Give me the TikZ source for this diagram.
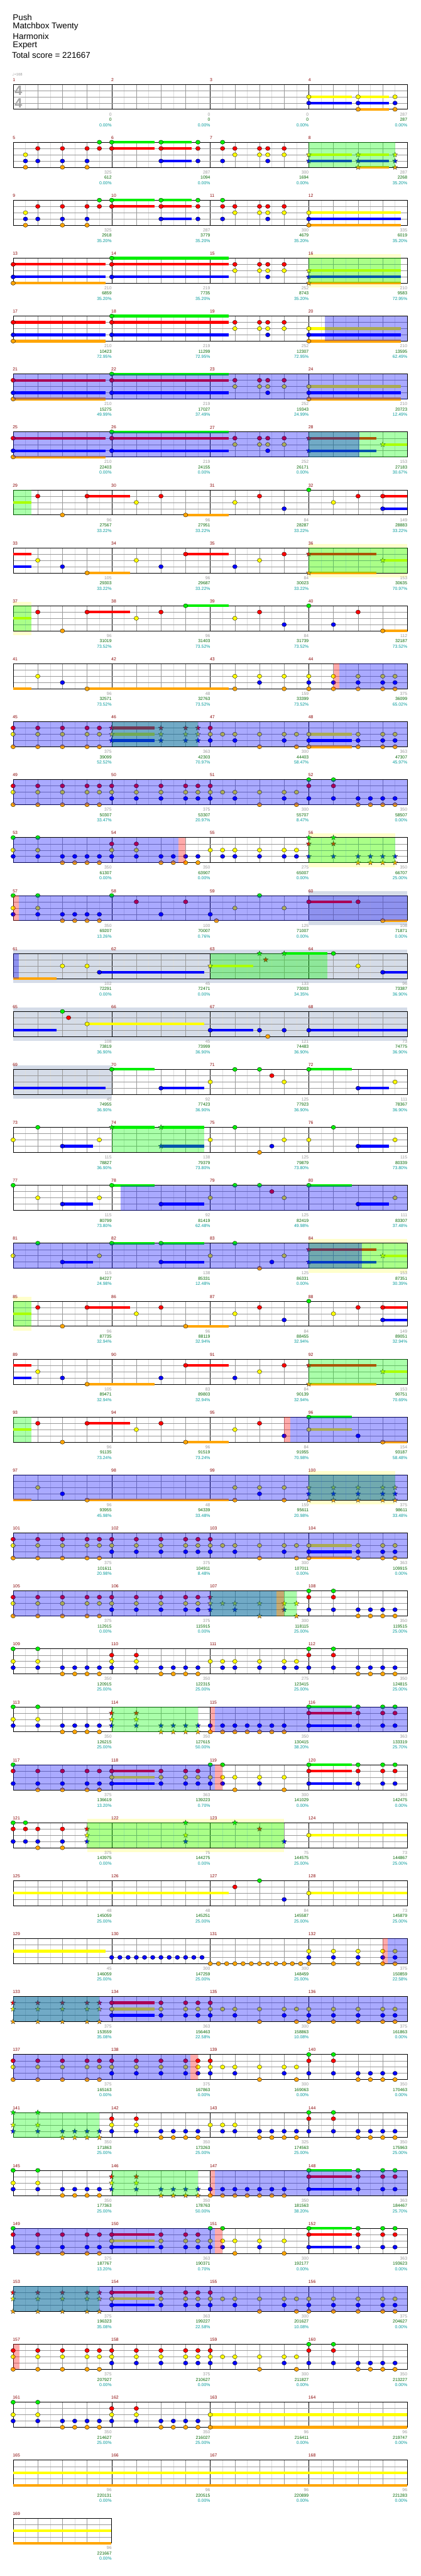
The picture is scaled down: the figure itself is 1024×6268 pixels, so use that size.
\documentclass[tikz,border=0pt]{standalone}
\usepackage{fontspec}
\setmainfont{Liberation Sans}
\newfontfamily\djv{DejaVu Sans}
\usetikzlibrary{shapes.geometric}
\definecolor{cG}{HTML}{00EE00}
\definecolor{cR}{HTML}{FF0000}
\definecolor{cY}{HTML}{FFFF00}
\definecolor{cB}{HTML}{0000FF}
\definecolor{cO}{HTML}{FFA500}
\definecolor{mred}{HTML}{880000}
\definecolor{sgray}{HTML}{999999}
\definecolor{sgreen}{HTML}{006600}
\definecolor{steal}{HTML}{009999}
\definecolor{pyel}{HTML}{FFFFCC}
\definecolor{gblu}{HTML}{D5DCE8}
\definecolor{lgr}{HTML}{DDDDDD}
\definecolor{mgr}{HTML}{999999}
\definecolor{ovg}{HTML}{00FF00}
\definecolor{ovb}{HTML}{0000FF}
\definecolor{ovr}{HTML}{FF0000}
\def\LG{0}\def\LR{1}\def\LY{2}\def\LB{3}\def\LO{4}
\tikzset{
 nt/.style={ellipse,draw=black,line width=0.5pt,minimum width=11pt,minimum height=10pt,inner sep=0pt},
 sn/.style={star,star points=5,star point ratio=2.3,draw=black!80,line width=0.5pt,minimum size=13pt,inner sep=0pt},
 bar/.style={line width=6.5pt},
 l8/.style={lgr,line width=0.5pt},
 lq/.style={mgr,line width=0.7pt},
 lm/.style={black,line width=0.7pt},
 frame/.style={black,line width=1.1pt},
 og/.style={fill=ovg,fill opacity=0.333},
 ob/.style={fill=ovb,fill opacity=0.333},
 orr/.style={fill=ovr,fill opacity=0.333},
 ey/.style={fill=pyel},
 eg/.style={fill=gblu},
 mlab/.style={text=mred,anchor=west,inner sep=0pt,font=\fontsize{10.5}{12}\selectfont},
 s1/.style={text=sgray,anchor=east,inner sep=0pt,font=\fontsize{10.5}{12}\selectfont},
 s2/.style={text=sgreen,anchor=east,inner sep=0pt,font=\fontsize{10.5}{12}\selectfont},
 s3/.style={text=steal,anchor=east,inner sep=0pt,font=\fontsize{10.5}{12}\selectfont},
 ttl/.style={anchor=west,inner sep=0pt,font=\fontsize{20.5}{24}\selectfont}
}
\newcommand\Grid[2]{%
 \pgfmathsetmacro\gT{205+141*#1}%
 \pgfmathsetmacro\gB{\gT+61}%
 \pgfmathsetmacro\gR{32+240*#2}%
 \pgfmathtruncatemacro\nE{8*#2-1}%
 \foreach \i in {1,...,\nE}{\draw[l8] ({32+30*\i},\gT) -- ({32+30*\i},\gB);}%
 \pgfmathtruncatemacro\nQ{4*#2-1}%
 \foreach \i in {1,...,\nQ}{\draw[lq] ({32+60*\i},\gT) -- ({32+60*\i},\gB);}%
 \pgfmathtruncatemacro\nM{#2-1}%
 \ifnum\nM>0 \foreach \i in {1,...,\nM}{\draw[lm] ({32+240*\i},\gT) -- ({32+240*\i},\gB);}\fi
 \foreach \l in {1,2,3}{\draw[lq] (32,{\gT+15.25*\l}) -- (\gR,{\gT+15.25*\l});}%
 \draw[frame] (32,\gT) rectangle (\gR,\gB);%
 \pgfmathtruncatemacro\mm{4*#1}%
 \foreach \i in {1,...,#2}{\pgfmathtruncatemacro\mn{\mm+\i}\node[mlab] at ({31+240*(\i-1)},{194+141*#1}) {\mn};}%
}
\newcommand\Nt[3]{\pgfmathsetmacro\ly{205+141*#1+15.25*\csname L#2\endcsname}%
 \foreach \e in {#3}{\node[nt,fill=c#2] at ({32+30*\e},\ly) {};}}
\newcommand\Sr[3]{\pgfmathsetmacro\ly{205+141*#1+15.25*\csname L#2\endcsname}%
 \foreach \e in {#3}{\node[sn,fill=c#2] at ({32+30*\e},\ly) {};}}
\newcommand\Bs[3]{\pgfmathsetmacro\ly{205+141*#1+15.25*\csname L#2\endcsname}%
 \foreach \a/\b in {#3}{\draw[bar,c#2] ({32+30*\a},\ly) -- ({32+30*\b},\ly);}}
\newcommand\OV[4]{\fill[#4] ({32+30*#2},{205+141*#1}) rectangle ({32+30*#3},{266+141*#1});}
\newcommand\EX[4]{\fill[#4] ({32+30*#2},{195+141*#1}) rectangle ({32+30*#3},{277+141*#1});}
\newcommand\Scs[2]{\foreach \g/\s/\p [count=\j] in {#2}{%
 \node[s1] at ({32+240*\j},{278+141*#1}) {\g};
 \node[s2] at ({32+240*\j},{291+141*#1}) {\s};
 \node[s3] at ({32+240*\j},{304+141*#1}) {\p\%};}}
% repeated measure groups
\newcommand\GroupA[1]{% like measures 113-116
 \Grid{#1}{4}
 \Bs{#1}{G}{24/27.5}\Bs{#1}{R}{24/27.5}\Bs{#1}{B}{24/27.5}
 \Nt{#1}{G}{0,2,24,28,30,31}\Nt{#1}{Y}{0,2}\Nt{#1}{B}{0,2,4,5,6,7,16,17,18,19,20,21,22,24,28,30,31}\Nt{#1}{O}{4,5,6,7,16,17,18,19,20,21,22}\Nt{#1}{R}{24,28,30,31}
 \Sr{#1}{R}{8,10}\Sr{#1}{Y}{8,10}\Sr{#1}{B}{8,10,12,13,14,15}\Sr{#1}{O}{12,13,14,15}
 \OV{#1}{8}{15}{og}\OV{#1}{16}{16.4}{orr}\OV{#1}{16.4}{32}{ob}}
\newcommand\GroupB[1]{% like measures 117-120
 \Grid{#1}{4}
 \Bs{#1}{R}{8/11.5,24/27.5}\Bs{#1}{Y}{8/11.5}\Bs{#1}{B}{8/11.5,24/27.5}\Bs{#1}{G}{24/27.5}
 \Nt{#1}{G}{0,16,17,24,28,30,31}\Nt{#1}{R}{0,2,4,6,7,8,12,14,15,24,28,30,31}\Nt{#1}{Y}{8,12,14,15,16,17,18,20,22}\Nt{#1}{B}{0,2,4,6,7,8,12,14,15,16,17,20,24,28,30,31}\Nt{#1}{O}{2,4,6,7,18,22}
 \OV{#1}{0}{16.4}{ob}\OV{#1}{16.4}{17}{orr}}
\newcommand\GroupC[1]{% like measures 133-136
 \Grid{#1}{4}
 \Bs{#1}{R}{8/11.5}\Bs{#1}{Y}{8/11.5}\Bs{#1}{B}{8/11.5}
 \Sr{#1}{R}{0,2,4,6,7}\Sr{#1}{Y}{0,2,4,6,7}\Sr{#1}{O}{0,2,4,6,7}
 \Nt{#1}{R}{8,12,14,15,16}\Nt{#1}{Y}{8,12,14,15,16,17,18,20,22,23,24,26,28,30,31}\Nt{#1}{B}{8,12,14,15,16,18,22,24,26,28,30,31}\Nt{#1}{O}{20,23,24,26,28,30,31}
 \OV{#1}{0}{7}{og}\OV{#1}{0}{32}{ob}}
\newcommand\GroupD[1]{% like measures 137-140
 \Grid{#1}{4}
 \Nt{#1}{R}{0,2,4,6,7,8,10,12,14,15,16,24,26}\Nt{#1}{Y}{0,2,4,6,7,8,10,12,14,15,16,17,18,20,22,23}\Nt{#1}{B}{8,10,12,14,15,16,18,22,24,26,28,29,30,31}\Nt{#1}{O}{0,2,4,6,7,20,23,28,29,30,31}\Nt{#1}{G}{24,26}}
\begin{document}
\begin{tikzpicture}[x=1pt,y=-1pt]
\fill[white] (0,0) rectangle (1024,6268);
\useasboundingbox (0,0) rectangle (1024,6268);
\node[ttl] (t1) at (31,42) {Push};
\node[ttl] (t2) at (31,65) {Matchbox Twenty};
\node[ttl] (t3) at (31,88) {Harmonix};
\node[ttl] (t4) at (31,111) {Expert};
\node[ttl] (t5) at (29,134) {Total score = 221667};
\node[anchor=west,inner sep=0pt,text=sgray,font=\fontsize{9}{10}\selectfont] (tempo) at (30,181) {{\djv ♩}=168};
% ---------- row 0
\Grid{0}{4}
\node[text=black!35,font=\fontsize{33}{33}\selectfont\bfseries] (ts1) at (45,220) {4};
\node[text=black!35,font=\fontsize{33}{33}\selectfont\bfseries] (ts2) at (45,251) {4};
\Bs{0}{Y}{24/27.5,28/30.5}\Bs{0}{B}{24/27.5,28/30.5}\Bs{0}{O}{28/30.5}
\Nt{0}{Y}{24,28,31}\Nt{0}{B}{24,28,31}\Nt{0}{O}{28,31}
\Scs{0}{0/0/0.00,0/0/0.00,0/0/0.00,287/287/0.00}
% ---------- row 1
\Grid{1}{4}
\Bs{1}{G}{8/11.5,12/14.5}\Bs{1}{R}{8/11.5,12/14.5}\Bs{1}{Y}{24/27.5,28/30.5}\Bs{1}{B}{12/14.5,24/27.5,28/30.5}\Bs{1}{O}{28/30.5}
\Nt{1}{G}{7,8,12,15,17}\Nt{1}{R}{2,4,6,7,8,12,15,17,18,20,20.67,22}\Nt{1}{Y}{1,18,20,20.67,22}\Nt{1}{B}{1,2,4,6,12,15,17,20.67}\Nt{1}{O}{1,4,6}
\Sr{1}{Y}{24,28,31}\Sr{1}{B}{24,28,31}\Sr{1}{O}{28,31}
\OV{1}{24}{31}{og}
\Scs{1}{325/612/0.00,287/1094/0.00,300/1694/0.00,287/2268/35.20}
% ---------- row 2
\Grid{2}{4}
\Bs{2}{G}{8/11.5,12/14.5}\Bs{2}{R}{8/11.5,12/14.5}\Bs{2}{Y}{24/31.5}\Bs{2}{B}{12/14.5,24/31.5}\Bs{2}{O}{24/31.5}
\Nt{2}{G}{7,8,12,15,17}\Nt{2}{R}{2,4,6,7,8,12,15,17,18,20,20.67,22}\Nt{2}{Y}{1,18,20,20.67,22,24}\Nt{2}{B}{1,2,4,6,12,15,17,20.67,24}\Nt{2}{O}{1,4,6,24}
\Scs{2}{325/2918/35.20,287/3779/35.20,300/4679/35.20,335/6019/35.20}
% ---------- row 3
\EX{3}{24}{31.5}{ey}
\Grid{3}{4}
\Bs{3}{R}{0/7.5,8/17.5}\Bs{3}{G}{8/17.5}\Bs{3}{B}{0/7.5,8/17.5,24/31.5}\Bs{3}{O}{0/7.5,24/31.5}\Bs{3}{Y}{24/31.5}
\Nt{3}{R}{0,8,18,20,20.67,22}\Nt{3}{G}{8}\Nt{3}{Y}{18,20,20.67,22}\Nt{3}{B}{0,8,20.67}\Nt{3}{O}{0}
\Sr{3}{Y}{24}\Sr{3}{B}{24}\Sr{3}{O}{24}
\OV{3}{24}{31.5}{og}
\Scs{3}{210/6859/35.20,219/7735/35.20,252/8743/35.20,210/9583/72.95}
% ---------- row 4
\Grid{4}{4}
\Bs{4}{R}{0/7.5,8/17.5}\Bs{4}{G}{8/17.5}\Bs{4}{B}{0/7.5,8/17.5,24/31.5}\Bs{4}{O}{0/7.5,24/31.5}\Bs{4}{Y}{24/31.5}
\Nt{4}{R}{0,8,18,20,20.67,22}\Nt{4}{G}{8}\Nt{4}{Y}{18,20,20.67,22,24}\Nt{4}{B}{0,8,20.67,24}\Nt{4}{O}{0,24}
\OV{4}{25.3}{32}{ob}
\Scs{4}{210/10423/72.95,219/11299/72.95,252/12307/72.95,210/13595/62.49}
% ---------- row 5
\Grid{5}{4}
\Bs{5}{R}{0/7.5,8/17.5}\Bs{5}{G}{8/17.5}\Bs{5}{B}{0/7.5,8/17.5,24/31.5}\Bs{5}{O}{0/7.5,24/31.5}\Bs{5}{Y}{24/31.5}
\Nt{5}{R}{0,8,18,20,20.67,22}\Nt{5}{G}{8}\Nt{5}{Y}{18,20,20.67,22,24}\Nt{5}{B}{0,8,20.67,24}\Nt{5}{O}{0,24}
\OV{5}{0}{32}{ob}
\Scs{5}{210/15275/49.99,219/17027/37.49,252/19343/24.99,210/20723/12.49}
% ---------- row 6
\Grid{6}{4}
\Bs{6}{R}{0/7.5,8/17.5,24/29.5}\Bs{6}{G}{8/17.5}\Bs{6}{B}{0/7.5,8/17.5,24/29.5}\Bs{6}{O}{0/7.5}\Bs{6}{Y}{30/32}
\Nt{6}{R}{0,8,18,20,20.67,22}\Nt{6}{G}{8}\Nt{6}{Y}{18,20,20.67,22}\Nt{6}{B}{0,8,20.67}\Nt{6}{O}{0}
\Sr{6}{R}{24}\Sr{6}{B}{24}\Sr{6}{Y}{30}
\OV{6}{24}{32}{og}\OV{6}{0}{28.1}{ob}
\Scs{6}{210/22403/0.00,219/24155/0.00,252/26171/0.00,153/27183/30.67}
% ---------- row 7
\Grid{7}{4}
\Bs{7}{Y}{0/1.5}\Bs{7}{R}{6/9.5,30/32}\Bs{7}{O}{14/17.5}\Bs{7}{B}{30/32}
\Nt{7}{R}{2,6,12,20,28,30}\Nt{7}{Y}{10,18,26}\Nt{7}{B}{22,30}\Nt{7}{O}{4,14}\Nt{7}{G}{24}
\OV{7}{0}{1.5}{og}
\Scs{7}{96/27567/33.22,96/27951/33.22,84/28287/33.22,149/28883/33.22}
% ---------- row 8
\EX{8}{24}{32}{ey}
\Grid{8}{4}
\Bs{8}{R}{0/1.5,14/17.5,24/29.5}\Bs{8}{B}{0/1.5}\Bs{8}{O}{6/9.5,24/29.5}\Bs{8}{Y}{30/32}
\Nt{8}{Y}{2,10,20}\Nt{8}{B}{4,12,18}\Nt{8}{O}{6}\Nt{8}{R}{14,22}
\Sr{8}{R}{24}\Sr{8}{O}{24}\Sr{8}{Y}{30}
\OV{8}{24}{32}{og}
\Scs{8}{105/29303/33.22,96/29687/33.22,84/30023/33.22,153/30635/70.97}
% ---------- row 9
\EX{9}{0}{1.5}{ey}
\Grid{9}{4}
\Bs{9}{Y}{0/1.5}\Bs{9}{R}{6/9.5}\Bs{9}{G}{14/17.5}\Bs{9}{O}{30/32}
\Nt{9}{R}{2,6,12,20,28}\Nt{9}{Y}{10,18}\Nt{9}{G}{14,24}\Nt{9}{B}{22,26}\Nt{9}{O}{4,30}
\OV{9}{0}{1.5}{og}
\Scs{9}{96/31019/73.52,96/31403/73.52,84/31739/73.52,112/32187/73.52}
% ---------- row 10
\Grid{10}{4}
\Bs{10}{O}{0/1.5,6/17.5}
\Nt{10}{Y}{2,18,20,22,24,26,28,30,31}\Nt{10}{B}{4,20,24,26,28,30,31}\Nt{10}{O}{6,18,22,24,26,28,30,31}
\OV{10}{26}{26.5}{orr}\OV{10}{26.5}{32}{ob}
\Scs{10}{96/32571/73.52,48/32763/73.52,159/33399/73.52,375/36099/65.02}
% ---------- row 11
\Grid{11}{4}
\Bs{11}{R}{8/11.5}\Bs{11}{Y}{8/11.5,24/27.5}\Bs{11}{B}{8/11.5,24/27.5}\Bs{11}{O}{24/27.5}
\Nt{11}{R}{0,2,4,6,7,16}\Nt{11}{Y}{0,2,4,6,7,16,17,18,20,22,23,24,28,30,31}\Nt{11}{B}{16,18,22,24,28,30,31}\Nt{11}{O}{0,2,4,6,7,20,23,24,28,30,31}
\Sr{11}{R}{8,12,14,15}\Sr{11}{Y}{8,12,14,15}\Sr{11}{B}{8,12,14,15}
\OV{11}{8}{15}{og}\OV{11}{0}{32}{ob}
\Scs{11}{375/39099/52.52,363/42303/70.97,300/44403/58.47,363/47307/45.97}
% ---------- row 12
\GroupD{12}
\OV{12}{0}{32}{ob}
\Scs{12}{375/50307/33.47,375/53307/20.97,300/55707/8.47,350/58507/0.00}
% ---------- row 13
\EX{13}{24}{31}{ey}
\Grid{13}{4}
\Nt{13}{G}{0,2}\Nt{13}{Y}{0,2,8,10,16,17,18,20,22,23}\Nt{13}{R}{8,10}\Nt{13}{B}{0,2,4,5,6,7,8,10,12,13,14,15,17,18,20,22,23}\Nt{13}{O}{4,5,6,7,12,13,14,15}
\Sr{13}{G}{24,26}\Sr{13}{R}{24,26}\Sr{13}{B}{24,26,28,29,30,31}\Sr{13}{O}{28,29,30,31}
\OV{13}{24}{31}{og}\OV{13}{0}{13.4}{ob}\OV{13}{13.4}{14}{orr}
\Scs{13}{350/61307/0.00,350/63907/0.00,275/65007/0.00,350/66707/25.00}
% ---------- row 14
\EX{14}{24}{32}{eg}
\Grid{14}{4}
\Bs{14}{R}{24/27.5}\Bs{14}{O}{30/32}
\Nt{14}{G}{0,2,8,20}\Nt{14}{R}{10,14,24,28}\Nt{14}{Y}{0,2,18,22}\Nt{14}{B}{0,2,4,5,6,7,12,16}\Nt{14}{O}{4,5,6,7,16.5,30}
\OV{14}{0}{0.46}{orr}\OV{14}{0.46}{32}{ob}
\Scs{14}{350/69207/13.26,100/70007/0.76,125/71007/0.00,108/71871/0.00}
% ---------- row 15
\EX{15}{0}{32}{eg}
\Grid{15}{4}
\Bs{15}{O}{0/3.5}\Bs{15}{B}{7/15.5,30/32}\Bs{15}{Y}{16/19.5}\Bs{15}{G}{22/25.5}
\Nt{15}{Y}{4,6,28}\Nt{15}{B}{7,30}\Nt{15}{G}{26}
\Sr{15}{Y}{16}\Sr{15}{G}{20,22}\Sr{15}{R}{20.5}
\OV{15}{16}{25.5}{og}\OV{15}{0}{0.46}{ob}
\Scs{15}{102/72291/0.00,45/72471/0.00,133/73003/34.35,96/73387/36.90}
% ---------- row 16
\EX{16}{0}{32}{eg}
\Grid{16}{4}
\Bs{16}{B}{0/3.5,16/19.5,24/32}\Bs{16}{Y}{6/15.5}
\Nt{16}{G}{4}\Nt{16}{R}{4.5}\Nt{16}{Y}{6}\Nt{16}{B}{16,20,22,24}\Nt{16}{O}{20.67}
\Scs{16}{108/73819/36.90,45/73999/36.90,121/74483/36.90,73/74775/36.90}
% ---------- row 17
\EX{17}{0}{8}{eg}
\Grid{17}{4}
\Bs{17}{B}{0/7.5,12/15.5,28/30.5}\Bs{17}{G}{8/11.5,24/27.5}
\Nt{17}{G}{8,18,20,24}\Nt{17}{B}{12,28}\Nt{17}{Y}{16,22,31}\Nt{17}{R}{21}
\Scs{17}{45/74955/36.90,92/77423/36.90,125/77923/36.90,111/78367/36.90}
% ---------- row 18
\Grid{18}{4}
\Bs{18}{G}{8/11.5,12/15.5}\Bs{18}{B}{4/6.5,12/15.5,28/30.5}
\Nt{18}{G}{2,18,26}\Nt{18}{Y}{0,7,16,22,24,31}\Nt{18}{B}{4,21,28}\Nt{18}{O}{20}
\Sr{18}{G}{8,12}\Sr{18}{B}{12}
\OV{18}{8}{15.5}{og}
\Scs{18}{115/78827/36.90,138/79379/73.80,125/79879/73.80,115/80339/73.80}
% ---------- row 19
\Grid{19}{4}
\Bs{19}{G}{8/11.5,24/27.5}\Bs{19}{B}{4/6.5,12/15.5,28/30.5}
\Nt{19}{G}{0,8,18,20,24}\Nt{19}{Y}{2,7,16,22,31}\Nt{19}{B}{4,12,28}\Nt{19}{R}{21}
\OV{19}{8.73}{32}{ob}
\Scs{19}{115/80799/73.80,92/81419/62.48,125/82419/49.98,111/83307/37.48}
% ---------- row 20
\EX{20}{24}{32}{ey}
\Grid{20}{4}
\Bs{20}{G}{8/11.5,12/15.5}\Bs{20}{B}{4/6.5,12/15.5,24/29.5}\Bs{20}{R}{24/29.5}\Bs{20}{Y}{30/32}
\Nt{20}{G}{2,8,12,18}\Nt{20}{Y}{0,7,16,22}\Nt{20}{B}{4,12,21}\Nt{20}{O}{20}
\Sr{20}{B}{24}\Sr{20}{R}{24}\Sr{20}{Y}{30}
\OV{20}{24}{32}{og}\OV{20}{0}{28.3}{ob}
\Scs{20}{115/84227/24.98,138/85331/12.48,125/86331/0.00,153/87351/30.39}
% ---------- row 21
\EX{21}{0}{1.5}{ey}
\Grid{21}{4}
\Bs{21}{Y}{0/1.5}\Bs{21}{R}{6/9.5,30/32}\Bs{21}{O}{14/17.5}\Bs{21}{B}{30/32}
\Nt{21}{R}{2,6,12,20,28,30}\Nt{21}{Y}{10,18,26}\Nt{21}{B}{22,30}\Nt{21}{O}{4,14}\Nt{21}{G}{24}
\OV{21}{0}{1.5}{og}
\Scs{21}{96/87735/32.94,96/88119/32.94,84/88455/32.94,149/89051/32.94}
% ---------- row 22
\Grid{22}{4}
\Bs{22}{R}{0/1.5,14/17.5,24/29.5}\Bs{22}{B}{0/1.5}\Bs{22}{O}{6/11.5,24/29.5}\Bs{22}{Y}{30/32}
\Nt{22}{Y}{2,20}\Nt{22}{B}{4,12,18}\Nt{22}{O}{6}\Nt{22}{R}{14,22}
\Sr{22}{R}{24}\Sr{22}{O}{24}\Sr{22}{Y}{30}
\OV{22}{24}{32}{og}
\Scs{22}{105/89471/32.94,83/89803/32.94,84/90139/32.94,153/90751/70.69}
% ---------- row 23
\Grid{23}{4}
\Bs{23}{Y}{0/1.5,24/27.5}\Bs{23}{R}{6/9.5}\Bs{23}{O}{14/17.5,30/32}\Bs{23}{G}{24/27.5}
\Nt{23}{R}{2,6,12,20}\Nt{23}{Y}{10,18,24}\Nt{23}{O}{4,14,30}\Nt{23}{B}{22,28}\Nt{23}{G}{24}
\OV{23}{0}{1.5}{og}\OV{23}{22}{22.5}{orr}\OV{23}{22.5}{32}{ob}
\Scs{23}{96/91135/73.24,96/91519/73.24,84/91955/70.98,154/93187/58.48}
% ---------- row 24
\EX{24}{24}{31}{ey}
\Grid{24}{4}
\Bs{24}{O}{0/1.5,6/17.5}
\Nt{24}{Y}{2,18,20,22}\Nt{24}{B}{4,20}\Nt{24}{O}{6,18,22}
\Sr{24}{Y}{24,26,28,30,31}\Sr{24}{B}{24,26,28,30,31}\Sr{24}{O}{24,26,28,30,31}
\OV{24}{24}{31}{og}\OV{24}{0}{32}{ob}
\Scs{24}{96/93955/45.98,48/94339/33.48,159/95611/20.98,375/98611/33.48}
% ---------- row 25
\Grid{25}{4}
\Bs{25}{Y}{24/27.5}\Bs{25}{B}{24/27.5}\Bs{25}{O}{24/27.5}
\Nt{25}{R}{0,2,4,6,7,8,10,12,14,15,16}\Nt{25}{Y}{0,2,4,6,7,8,10,12,14,15,16,17,18,20,22,23,24,28,30,31}\Nt{25}{B}{8,10,12,14,15,16,18,22,24,28,30,31}\Nt{25}{O}{0,2,4,6,7,20,23,24,28,30,31}
\OV{25}{0}{32}{ob}
\Scs{25}{375/101611/20.98,375/104911/8.48,300/107011/0.00,363/109915/0.00}
% ---------- row 26
\Grid{26}{4}
\Nt{26}{R}{0,2,4,6,7,8,10,12,14,15,24,26}\Nt{26}{Y}{0,2,4,6,7,8,10,12,14,15}\Nt{26}{B}{8,10,12,14,15,24,26,28,29,30,31}\Nt{26}{O}{0,2,4,6,7,28,29,30,31}\Nt{26}{G}{24,26}
\Sr{26}{R}{16}\Sr{26}{Y}{16,17,18,20,22,23}\Sr{26}{B}{16,18,22}\Sr{26}{O}{20,23}
\OV{26}{16}{23}{og}\OV{26}{0}{21.4}{ob}\OV{26}{21.4}{22}{orr}
\Scs{26}{375/112915/0.00,375/115915/0.00,300/118115/25.00,350/119515/25.00}
% ---------- row 27
\Grid{27}{4}
\Nt{27}{G}{0,2,24,26}\Nt{27}{Y}{0,2,8,10,16,17,18,20,22,23}\Nt{27}{R}{8,10,24,26}\Nt{27}{B}{0,2,4,5,6,7,8,10,12,13,14,15,17,18,20,22,23,24,26,28,29,30,31}\Nt{27}{O}{4,5,6,7,12,13,14,15,28,29,30,31}
\Scs{27}{350/120915/25.00,350/122315/25.00,275/123415/25.00,350/124815/25.00}
% ---------- row 28
\GroupA{28}
\Scs{28}{350/126215/25.00,350/127615/50.00,350/130415/38.20,363/133319/25.70}
% ---------- row 29
\GroupB{29}
\Scs{29}{375/136619/13.20,363/139223/0.70,300/141029/0.00,363/142475/0.00}
% ---------- row 30
\EX{30}{6}{22}{ey}
\Grid{30}{4}
\Bs{30}{Y}{24/32}
\Nt{30}{G}{0,1}\Nt{30}{R}{0,1,2,4}\Nt{30}{B}{0,1,2,4}\Nt{30}{O}{2,4}\Nt{30}{Y}{24}
\Sr{30}{R}{6,20}\Sr{30}{Y}{6,14}\Sr{30}{B}{6,14,22}\Sr{30}{G}{14,18}
\OV{30}{6}{22}{og}
\Scs{30}{375/143975/0.00,75/144275/0.00,75/144575/25.00,73/144867/25.00}
% ---------- row 31
\Grid{31}{4}
\Bs{31}{Y}{0/17.5,24/32}
\Nt{31}{R}{18}\Nt{31}{G}{20}\Nt{31}{B}{22}\Nt{31}{Y}{24}
\Scs{31}{48/145059/25.00,48/145251/25.00,84/145587/25.00,73/145879/25.00}
% ---------- row 32
\Grid{32}{4}
\Bs{32}{Y}{0/7.5}
\Nt{32}{B}{8,8.667,9.333,10,10.667,11.333,12,12.667,13.333,14,14.667,15.333,24,26,28,30,31}
\Nt{32}{O}{16,16.667,17.333,18,18.667,19.333,20,20.667,21.333,22,22.667,23.333,24,26,28,30,31}
\Nt{32}{Y}{24,26,28,30,31}
\OV{32}{30}{30.4}{orr}\OV{32}{30.4}{32}{ob}
\Scs{32}{45/146059/25.00,300/147259/25.00,300/148459/25.00,375/150859/22.58}
% ---------- row 33
\GroupC{33}
\Scs{33}{375/153559/35.08,363/156463/22.58,300/158863/10.08,375/161863/0.00}
% ---------- row 34
\GroupD{34}
\OV{34}{0}{14.4}{ob}\OV{34}{14.4}{15}{orr}
\Scs{34}{375/165163/0.00,375/167863/0.00,300/169063/0.00,350/170463/0.00}
% ---------- row 35
\Grid{35}{4}
\Sr{35}{G}{0,2}\Sr{35}{Y}{0,2}\Sr{35}{B}{0,2,4,5,6,7}\Sr{35}{O}{4,5,6,7}
\Nt{35}{R}{8,10,24,26}\Nt{35}{Y}{8,10,16,17,18}\Nt{35}{B}{8,10,12,13,14,15,17,18,20,21,22,23,24,26,28,29,30,31}\Nt{35}{O}{12,13,14,15,20,21,22,23,28,29,30,31}\Nt{35}{G}{24,26}
\OV{35}{0}{7}{og}
\Scs{35}{350/171863/25.00,350/173263/25.00,325/174563/25.00,350/175963/25.00}
% ---------- row 36
\GroupA{36}
\Scs{36}{350/177363/25.00,350/178763/50.00,350/181563/38.20,363/184467/25.70}
% ---------- row 37
\GroupB{37}
\Scs{37}{375/187767/13.20,363/190371/0.70,300/192177/0.00,363/193623/0.00}
% ---------- row 38
\GroupC{38}
\Scs{38}{375/196323/35.08,363/199227/22.58,300/201627/10.08,375/204627/0.00}
% ---------- row 39
\GroupD{39}
\OV{39}{0}{0.5}{orr}
\Scs{39}{375/207927/0.00,375/210627/0.00,300/211827/0.00,350/213227/0.00}
% ---------- row 40
\Grid{40}{4}
\Bs{40}{Y}{16/32}\Bs{40}{O}{16/32}
\Nt{40}{G}{0,2}\Nt{40}{Y}{0,2,8,10,16}\Nt{40}{R}{8,10}\Nt{40}{B}{0,2,4,5,6,7,8,10,12,13,14,15}\Nt{40}{O}{4,5,6,7,12,13,14,15,16}
\Scs{40}{350/214627/25.00,350/216027/25.00,96/216411/0.00,96/219747/0.00}
% ---------- row 41
\Grid{41}{4}
\Bs{41}{Y}{0/32}\Bs{41}{O}{0/32}
\Scs{41}{96/220131/0.00,96/220515/0.00,96/220899/0.00,96/221283/0.00}
% ---------- row 42
\Grid{42}{1}
\Bs{42}{Y}{0/7.95}\Bs{42}{O}{0/7.95}
\Scs{42}{96/221667/0.00}
\end{tikzpicture}
\end{document}
